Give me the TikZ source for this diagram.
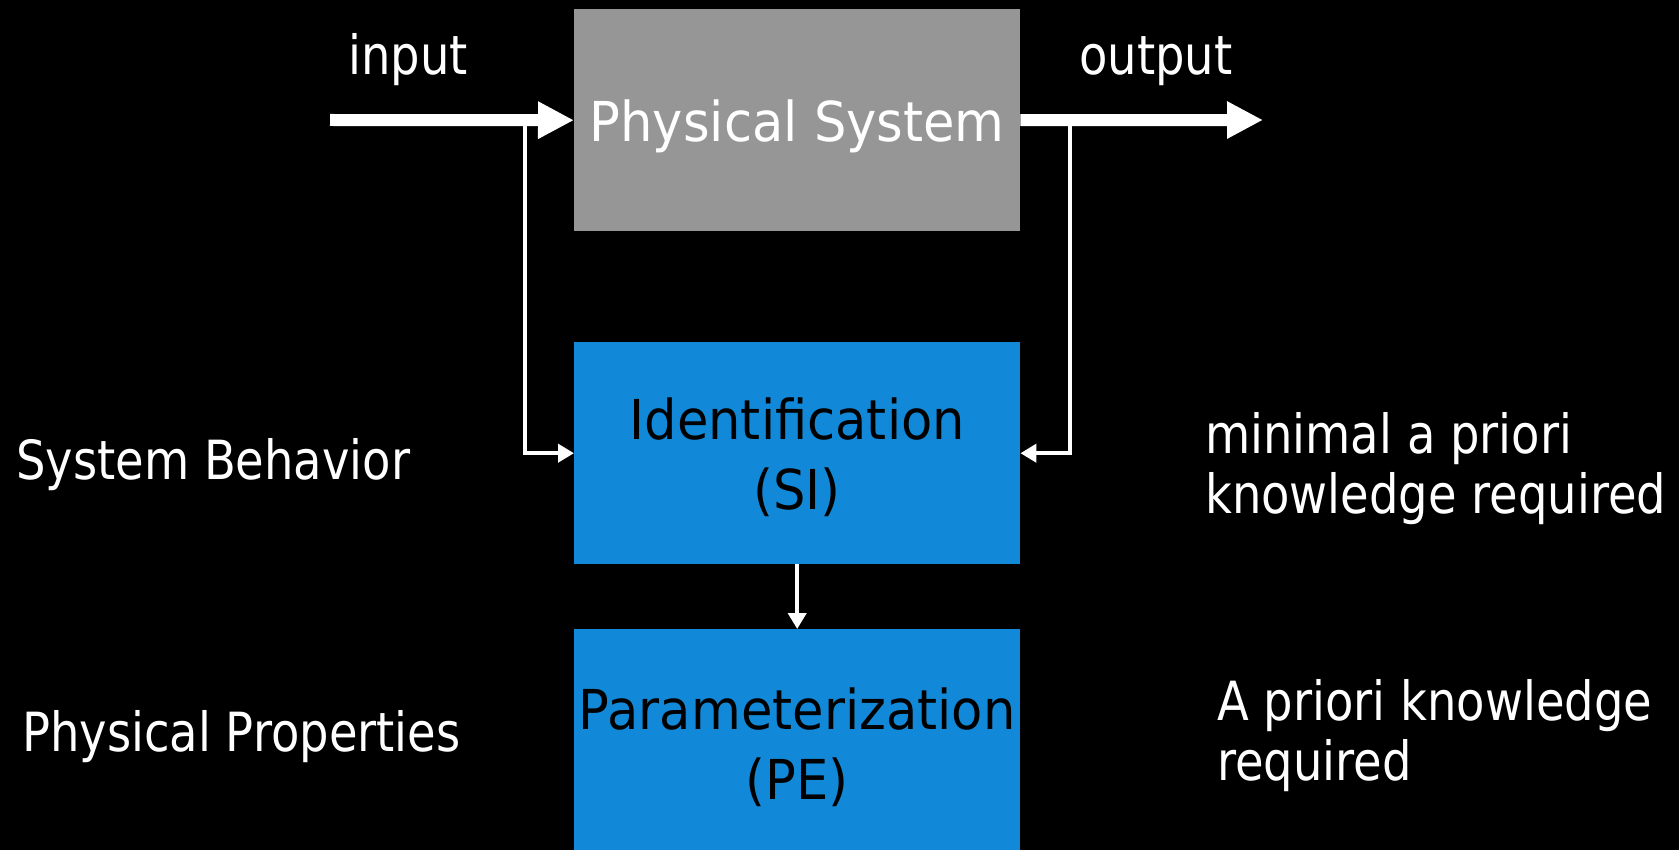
\documentclass[tikz,border=0pt]{standalone}
\usepackage{fontspec}
\setmainfont{DejaVu Sans}[FakeStretch=0.86]
\newfontfamily\blockfont{DejaVu Sans}[FakeStretch=0.93]
\usetikzlibrary{arrows.meta}
\definecolor{physgray}{RGB}{151,150,150}
\definecolor{boxblue}{RGB}{18,137,216}
\tikzset{
  blockbox/.style={rectangle, inner sep=0pt, minimum width=446pt, align=center,
    text depth=0pt, font=\blockfont\fontsize{55}{70}\selectfont},
  label/.style={text=white, inner sep=0pt, font=\fontsize{54}{60}\selectfont},
  bigarrow/.style={white, line width=12pt, -{Triangle[length=36pt,width=35pt]}},
  thinarrow/.style={white, line width=4.5pt, -{Triangle[length=16pt,width=18pt]}}
}
\begin{document}
\begin{tikzpicture}[x=1pt,y=-1pt]
\fill[black] (0,0) rectangle (1679,850);
\useasboundingbox (0,0) rectangle (1679,850);

% blocks
\node[blockbox, fill=physgray, text=white, minimum height=222pt, anchor=north west] (phys) at (574,9) {Physical System};
\node[blockbox, fill=boxblue, text=black, minimum height=222pt, anchor=north west] (ident) at (574,342) {Identification\\(SI)};
\node[blockbox, fill=boxblue, text=black, minimum height=228pt, anchor=north west] (param) at (574,629) {Parameterization\\(PE)};

% connector end points
\coordinate (inS) at (330,120);
\coordinate (outE) at (1263,120);
\coordinate (fbIn) at (525,120);
\coordinate (fbOut) at (1070,120);

% arrows
\draw[thinarrow] (fbIn) |- (ident.west);
\draw[thinarrow] (fbOut) |- (ident.east);
\draw[bigarrow] (inS) -- (phys.west);
\draw[bigarrow] (phys.east) -- (outE);
\draw[thinarrow] (ident.south) -- (param.north);

% labels
\node[label, anchor=base] (lin) at (408,75) {input};
\node[label, anchor=base] (lout) at (1156,75) {output};
\node[label, anchor=base west] (lsb) at (16,479) {System Behavior};
\node[label, anchor=base west] (lpp) at (22,751) {Physical Properties};
\node[label, anchor=base west] (lmin1) at (1205,453) {minimal a priori};
\node[label, anchor=base west] (lmin2) at (1205,513) {knowledge required};
\node[label, anchor=base west] (lap1) at (1217,720) {A priori knowledge};
\node[label, anchor=base west] (lap2) at (1217,780) {required};
\end{tikzpicture}
\end{document}
